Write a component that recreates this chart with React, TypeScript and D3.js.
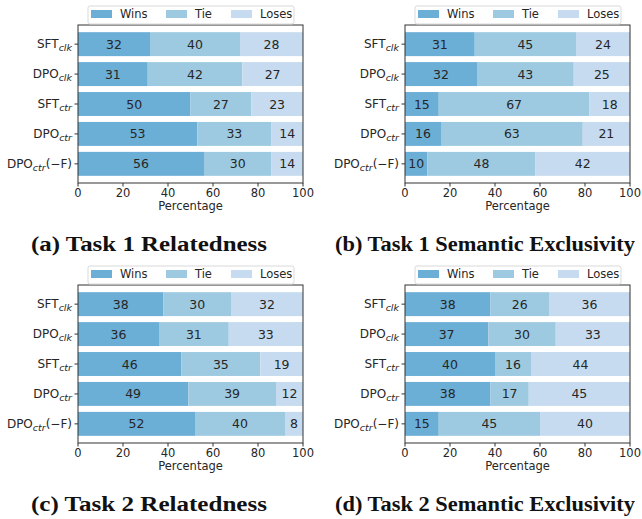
import React, { useEffect, useRef } from "react";
import * as d3 from "d3";

const models = [
  { base: "SFT", sub: "clk", tail: "" },
  { base: "DPO", sub: "clk", tail: "" },
  { base: "SFT", sub: "ctr", tail: "" },
  { base: "DPO", sub: "ctr", tail: "" },
  { base: "DPO", sub: "ctr", tail: "(\u2212F)" },
];
const outcomes = ["Wins", "Tie", "Loses"];
const colors = ["#6baed6", "#9ecae1", "#c6dbef"];
const xTicks = [0, 20, 40, 60, 80, 100];

const task1Relatedness = [
  [32, 40, 28],
  [31, 42, 27],
  [50, 27, 23],
  [53, 33, 14],
  [56, 30, 14],
];
const task1Exclusivity = [
  [31, 45, 24],
  [32, 43, 25],
  [15, 67, 18],
  [16, 63, 21],
  [10, 48, 42],
];
const task2Relatedness = [
  [38, 30, 32],
  [36, 31, 33],
  [46, 35, 19],
  [49, 39, 12],
  [52, 40, 8],
];
const task2Exclusivity = [
  [38, 26, 36],
  [37, 30, 33],
  [40, 16, 44],
  [38, 17, 45],
  [15, 45, 40],
];

const panels = [
  { title: "(a) Task 1 Relatedness", data: task1Relatedness, left: 78, top: 25, capX: 149, capW: 236 },
  { title: "(b) Task 1 Semantic Exclusivity", data: task1Exclusivity, left: 405, top: 25, capX: 485, capW: 300 },
  { title: "(c) Task 2 Relatedness", data: task2Relatedness, left: 78, top: 285, capX: 149, capW: 236 },
  { title: "(d) Task 2 Semantic Exclusivity", data: task2Exclusivity, left: 405, top: 285, capX: 485, capW: 300 },
];

const W = 642;
const H = 519;
const plotW = 225;
const plotH = 158;
const font = "DejaVu Sans, sans-serif";
const textColor = "#262626";

export default function App() {
  const ref = useRef<SVGSVGElement | null>(null);

  useEffect(() => {
    document.body.style.margin = "0";
    const root = d3.select(ref.current);
    root.selectAll("*").remove();

    panels.forEach((p) => {
      const g = root.append("g").attr("transform", `translate(${p.left},${p.top})`);

      const x = d3.scaleLinear().domain([0, 100]).range([0, plotW]);
      // matplotlib barh: bars at 0..4, height 0.8, 5% margins
      const y = d3.scaleLinear().domain([-0.64, 4.64]).range([0, plotH]);
      const bh = y(0.8) - y(0);

      const rows = p.data.map((vals, i) => {
        let acc = 0;
        return vals.map((v, k) => {
          const seg = { row: i, k, start: acc, value: v };
          acc += v;
          return seg;
        });
      });

      g.selectAll("g.row")
        .data(rows)
        .enter()
        .append("g")
        .each(function (segs) {
          const rg = d3.select(this);
          segs.forEach((s) => {
            const cy = y(s.row);
            rg.append("rect")
              .attr("x", x(s.start))
              .attr("y", cy - bh / 2)
              .attr("width", x(s.start + s.value) - x(s.start))
              .attr("height", bh)
              .attr("fill", colors[s.k]);
            rg.append("text")
              .attr("x", x(s.start + s.value / 2))
              .attr("y", cy)
              .attr("dy", "0.36em")
              .attr("text-anchor", "middle")
              .attr("font-family", font)
              .attr("font-size", 12.5)
              .attr("fill", textColor)
              .text(s.value);
          });
        });

      // frame
      g.append("rect")
        .attr("x", 0)
        .attr("y", 0)
        .attr("width", plotW)
        .attr("height", plotH)
        .attr("fill", "none")
        .attr("stroke", "#333")
        .attr("stroke-width", 1);

      // x axis
      const xa = g.append("g").attr("transform", `translate(0,${plotH})`);
      xTicks.forEach((t) => {
        xa.append("line")
          .attr("x1", x(t))
          .attr("x2", x(t))
          .attr("y1", 0)
          .attr("y2", 3.5)
          .attr("stroke", "#333");
        xa.append("text")
          .attr("x", x(t))
          .attr("y", 13.5)
          .attr("text-anchor", "middle")
          .attr("font-family", font)
          .attr("font-size", 11.5)
          .attr("fill", textColor)
          .text(t);
      });
      xa.append("text")
        .attr("x", plotW / 2)
        .attr("y", 27)
        .attr("text-anchor", "middle")
        .attr("font-family", font)
        .attr("font-size", 11.5)
        .attr("fill", textColor)
        .text("Percentage");

      // y axis labels
      models.forEach((m, i) => {
        g.append("line")
          .attr("x1", -3.5)
          .attr("x2", 0)
          .attr("y1", y(i))
          .attr("y2", y(i))
          .attr("stroke", "#333");
        const t = g
          .append("text")
          .attr("x", -6)
          .attr("y", y(i))
          .attr("dy", "0.36em")
          .attr("text-anchor", "end")
          .attr("font-family", font)
          .attr("font-size", 12)
          .attr("fill", textColor);
        t.append("tspan").text(m.base);
        t.append("tspan")
          .attr("font-style", "italic")
          .attr("font-size", 9.5)
          .attr("dy", 2.5)
          .text(m.sub);
        if (m.tail) {
          t.append("tspan").attr("dy", -2.5).text(m.tail);
        }
      });

      // legend
      const lg = g.append("g").attr("transform", `translate(10,-19)`);
      lg.append("rect")
        .attr("width", 206)
        .attr("height", 18)
        .attr("rx", 2)
        .attr("fill", "white")
        .attr("fill-opacity", 0.9)
        .attr("stroke", "#d9d9d9");
      const lx = [3, 78, 143];
      outcomes.forEach((o, k) => {
        lg.append("rect")
          .attr("x", lx[k])
          .attr("y", 4)
          .attr("width", 21)
          .attr("height", 8)
          .attr("fill", colors[k]);
        lg.append("text")
          .attr("x", lx[k] + 29)
          .attr("y", 8)
          .attr("dy", "0.36em")
          .attr("font-family", font)
          .attr("font-size", 11.5)
          .attr("fill", textColor)
          .text(o);
      });

      // caption
      root
        .append("text")
        .attr("x", p.capX - p.capW / 2)
        .attr("y", p.top + 226)
        .attr("textLength", p.capW)
        .attr("lengthAdjust", "spacingAndGlyphs")
        .attr("font-family", "Liberation Serif, serif")
        .attr("font-weight", "bold")
        .attr("font-size", 20)
        .attr("fill", "#111")
        .text(p.title);
    });
  }, []);

  return <svg ref={ref} width={W} height={H} style={{ display: "block", background: "white" }} />;
}
